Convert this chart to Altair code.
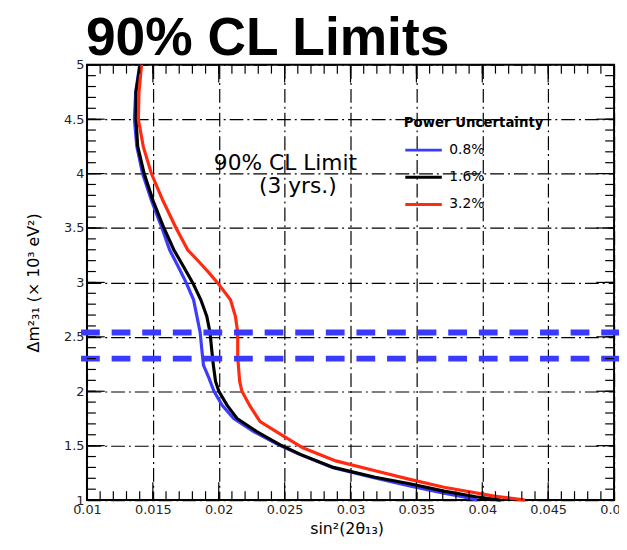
import altair as alt
import pandas as pd

# ---------------- data ----------------
series_labels = ["0.8%", "1.6%", "3.2%"]
series_colors = ["#3c3cff", "#000000", "#ff2a10"]

blue_x = [0.01400, 0.01370, 0.01360, 0.01378, 0.01422, 0.01490, 0.01569, 0.01627, 0.01690,
          0.01752, 0.01809, 0.01834, 0.01859, 0.01871, 0.01884, 0.01926, 0.01964, 0.02026,
          0.02114, 0.02263, 0.02451, 0.02613, 0.02862, 0.03162, 0.03450, 0.03710, 0.03850, 0.03960]
blue_y = [5.0, 4.75, 4.5, 4.25, 4.0, 3.75, 3.5, 3.3, 3.15, 3.0, 2.84, 2.69, 2.54, 2.39, 2.24,
          2.12, 2.0, 1.87, 1.75, 1.63, 1.51, 1.42, 1.30, 1.21, 1.13, 1.064, 1.03, 1.0]

black_x = [0.01404, 0.01372, 0.01372, 0.01385, 0.01434, 0.01502, 0.01584, 0.01659, 0.01730,
           0.01801, 0.01864, 0.01909, 0.01934, 0.01946, 0.01959, 0.01976, 0.02001, 0.02064,
           0.02139, 0.02288, 0.02463, 0.02620, 0.02870, 0.03187, 0.03450, 0.03710, 0.03950, 0.04140]
black_y = [5.0, 4.75, 4.5, 4.25, 4.0, 3.75, 3.5, 3.3, 3.15, 3.0, 2.84, 2.69, 2.54, 2.39, 2.24,
           2.09, 2.0, 1.87, 1.75, 1.63, 1.51, 1.42, 1.30, 1.21, 1.15, 1.082, 1.03, 1.0]

red_x = [0.01414, 0.01395, 0.01390, 0.01427, 0.01489, 0.01577, 0.01676, 0.01764, 0.01850,
         0.01925, 0.01989, 0.02089, 0.02126, 0.02144, 0.02144, 0.02159, 0.02176, 0.02239,
         0.02314, 0.02489, 0.02638, 0.02888, 0.03187, 0.03450, 0.03710, 0.04090, 0.04324]
red_y = [5.0, 4.75, 4.5, 4.25, 4.0, 3.75, 3.5, 3.3, 3.19, 3.09, 3.0, 2.84, 2.69, 2.54, 2.31,
         2.09, 2.0, 1.86, 1.72, 1.59, 1.48, 1.36, 1.27, 1.19, 1.118, 1.036, 1.0]

band_lines = [2.54, 2.30]

x_major = [0.01, 0.015, 0.02, 0.025, 0.03, 0.035, 0.04, 0.045, 0.05]
x_minor = [round(0.01 + 0.001 * i, 3) for i in range(41)]
y_major = [1, 1.5, 2, 2.5, 3, 3.5, 4, 4.5, 5]
y_minor = [round(1 + 0.1 * i, 1) for i in range(41)]

annot_text = ["90% CL Limit", "(3 yrs.)"]
annot_x = [0.02506, 0.02600]
annot_y = [4.03, 3.82]

chart_title = "90% CL Limits"

# ---------------- build tables ----------------
rows = []
for lab, xs, ys in zip(series_labels, [blue_x, black_x, red_x], [blue_y, black_y, red_y]):
    for i, (a, b) in enumerate(zip(xs, ys)):
        rows.append({"series": lab, "s2": a, "dm": b, "idx": i})
curves = pd.DataFrame(rows)

W, H = 534, 441
FONT = "DejaVu Sans"

xscale = alt.Scale(domain=[0.01, 0.05], nice=False, zero=False)
yscale = alt.Scale(domain=[1, 5], nice=False, zero=False)
GRID_DASH = [14, 4, 2, 4]

xaxis = alt.Axis(values=x_major, format="~g", grid=True, gridDash=GRID_DASH, gridColor="black",
                 gridWidth=1.2, gridOpacity=1, ticks=False, tickSize=0, domain=False,
                 labelFont=FONT, labelFontSize=13, labelColor="#222", labelPadding=4,
                 labelFlush=False, labelOverlap=False,
                 title="sin²(2θ₁₃)", titleFont=FONT, titleFontSize=16, titleFontWeight="normal",
                 titleColor="black", titleX=263, titleY=34, titleAlign="center",
                 titleBaseline="alphabetic")
yaxis = alt.Axis(values=y_major, format="~g", grid=True, gridDash=GRID_DASH, gridColor="black",
                 gridWidth=1.2, gridOpacity=1, ticks=False, tickSize=0, domain=False,
                 labelFont=FONT, labelFontSize=13, labelColor="#222", labelPadding=3,
                 labelFlush=False, labelOverlap=False,
                 title="Δm²₃₁ (× 10³ eV²)", titleFont=FONT, titleFontSize=16,
                 titleFontWeight="normal", titleColor="black", titleX=-54, titleY=H / 2,
                 titleAngle=270, titleAlign="center", titleBaseline="middle")

legend = alt.Legend(title="Power Uncertainty", orient="none", legendX=321, legendY=52,
                    symbolType="stroke", symbolSize=1369, symbolStrokeWidth=3,
                    clipHeight=26, rowPadding=1.5, titlePadding=8, padding=0, labelOffset=6,
                    labelFont=FONT, labelFontSize=14, labelColor="black",
                    titleFont=FONT, titleFontSize=13.5, titleFontWeight="bold",
                    titleColor="black")


def X(field):
    return alt.X(field, scale=xscale, axis=xaxis)


def Y(field):
    return alt.Y(field, scale=yscale, axis=yaxis)


lines = alt.Chart(curves).mark_line(strokeWidth=3.2).encode(
    x=X("s2:Q"),
    y=Y("dm:Q"),
    color=alt.Color("series:N", scale=alt.Scale(domain=series_labels, range=series_colors),
                    legend=legend),
    order=alt.Order("idx:Q"),
)

bands = alt.Chart(pd.DataFrame({"y": band_lines})).mark_rule(
    color="#3a3aff", strokeWidth=6, strokeDash=[19, 12]
).encode(y=Y("y:Q"), x=alt.value(-6), x2=alt.value(W + 10))


def xticks(vals, length, top):
    y0 = 0 if top else H
    y1 = length if top else H - length
    return alt.Chart(pd.DataFrame({"v": vals})).mark_rule(color="black", strokeWidth=1.2).encode(
        x=X("v:Q"), y=alt.value(y0), y2=alt.value(y1))


def yticks(vals, length, right):
    x0 = W if right else 0
    x1 = W - length if right else length
    return alt.Chart(pd.DataFrame({"v": vals})).mark_rule(color="black", strokeWidth=1.2).encode(
        y=Y("v:Q"), x=alt.value(x0), x2=alt.value(x1))


ticks = [xticks(x_minor, 9, False), xticks(x_minor, 9, True),
         xticks(x_major, 18, False), xticks(x_major, 18, True),
         yticks(y_minor, 9, False), yticks(y_minor, 9, True),
         yticks(y_major, 18, False), yticks(y_major, 18, True)]

annot = alt.Chart(pd.DataFrame({"t": annot_text, "x": annot_x, "y": annot_y})).mark_text(
    font=FONT, fontSize=22, align="center", baseline="alphabetic", color="black"
).encode(x=X("x:Q"), y=Y("y:Q"), text="t:N")

title = alt.Chart(pd.DataFrame({"t": [chart_title]})).mark_text(
    font="Liberation Sans", fontSize=54, fontWeight="bold", align="left",
    baseline="alphabetic", color="black"
).encode(x=alt.value(-1), y=alt.value(-10), text="t:N")

chart = alt.layer(lines, bands, *ticks, annot, title).properties(
    width=W, height=H,
    autosize=alt.AutoSizeParams(type="none"),
    padding={"left": 80, "top": 54, "right": 5, "bottom": 40},
    background="white",
).configure_view(stroke="black", strokeWidth=2)

chart.save("out.html", embed_options={"renderer": "svg", "actions": False})
